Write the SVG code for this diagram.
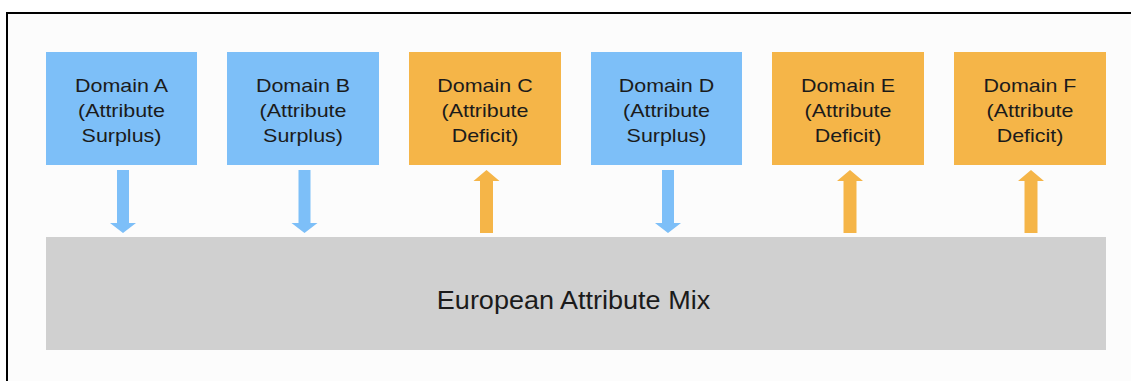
<svg xmlns="http://www.w3.org/2000/svg" xmlns:xlink="http://www.w3.org/1999/xlink" width="1131" height="381" viewBox="0 0 1131 381">
  <style>
    .surplus { fill: #7dbff8; }
    .deficit { fill: #f5b548; }
    .mix { fill: #d0d0d0; }
    .lbl { font-family: "Liberation Sans", Arial, sans-serif; font-size: 18.5px; fill: #1b1b1b; text-anchor: middle; }
    .big { font-family: "Liberation Sans", Arial, sans-serif; font-size: 25.5px; fill: #1b1b1b; text-anchor: middle; }
  </style>
  <defs>
    <path id="down" d="M -6 170 H 6 V 223 H 13 L 0 233 L -13 223 H -6 Z"/>
    <path id="up" d="M 0 170 L 13 181 H 6.5 V 233 H -6.5 V 181 H -13 Z"/>
  </defs>
  <rect x="0" y="0" width="1131" height="381" fill="#ffffff"/>
  <rect x="7" y="13" width="1200" height="420" fill="#fcfcfc" stroke="#000000" stroke-width="2"/>

  <g id="domain-a">
    <rect class="surplus" x="46" y="52" width="151" height="113"/>
    <g transform="translate(121.5,0) scale(1.16,1)">
      <text class="lbl" x="0" y="92.5">Domain A</text>
      <text class="lbl" x="0" y="117">(Attribute</text>
      <text class="lbl" x="0" y="142">Surplus)</text>
    </g>
  </g>
  <g id="domain-b">
    <rect class="surplus" x="227" y="52" width="152" height="113"/>
    <g transform="translate(303,0) scale(1.16,1)">
      <text class="lbl" x="0" y="92.5">Domain B</text>
      <text class="lbl" x="0" y="117">(Attribute</text>
      <text class="lbl" x="0" y="142">Surplus)</text>
    </g>
  </g>
  <g id="domain-c">
    <rect class="deficit" x="409" y="52" width="152" height="113"/>
    <g transform="translate(485,0) scale(1.16,1)">
      <text class="lbl" x="0" y="92.5">Domain C</text>
      <text class="lbl" x="0" y="117">(Attribute</text>
      <text class="lbl" x="0" y="142">Deficit)</text>
    </g>
  </g>
  <g id="domain-d">
    <rect class="surplus" x="591" y="52" width="151" height="113"/>
    <g transform="translate(666.5,0) scale(1.16,1)">
      <text class="lbl" x="0" y="92.5">Domain D</text>
      <text class="lbl" x="0" y="117">(Attribute</text>
      <text class="lbl" x="0" y="142">Surplus)</text>
    </g>
  </g>
  <g id="domain-e">
    <rect class="deficit" x="772" y="52" width="152" height="113"/>
    <g transform="translate(848,0) scale(1.16,1)">
      <text class="lbl" x="0" y="92.5">Domain E</text>
      <text class="lbl" x="0" y="117">(Attribute</text>
      <text class="lbl" x="0" y="142">Deficit)</text>
    </g>
  </g>
  <g id="domain-f">
    <rect class="deficit" x="954" y="52" width="152" height="113"/>
    <g transform="translate(1030,0) scale(1.16,1)">
      <text class="lbl" x="0" y="92.5">Domain F</text>
      <text class="lbl" x="0" y="117">(Attribute</text>
      <text class="lbl" x="0" y="142">Deficit)</text>
    </g>
  </g>

  <g id="european-attribute-mix">
    <rect class="mix" x="46" y="237" width="1060" height="113"/>
    <g transform="translate(573.5,0) scale(1.06,1)">
      <text class="big" x="0" y="309">European Attribute Mix</text>
    </g>
  </g>

  <g id="connectors">
    <use xlink:href="#down" class="surplus" transform="translate(123,0)"/>
    <use xlink:href="#down" class="surplus" transform="translate(304.5,0)"/>
    <use xlink:href="#up" class="deficit" transform="translate(486.5,0)"/>
    <use xlink:href="#down" class="surplus" transform="translate(668,0)"/>
    <use xlink:href="#up" class="deficit" transform="translate(850,0)"/>
    <use xlink:href="#up" class="deficit" transform="translate(1031,0)"/>
  </g>
</svg>
